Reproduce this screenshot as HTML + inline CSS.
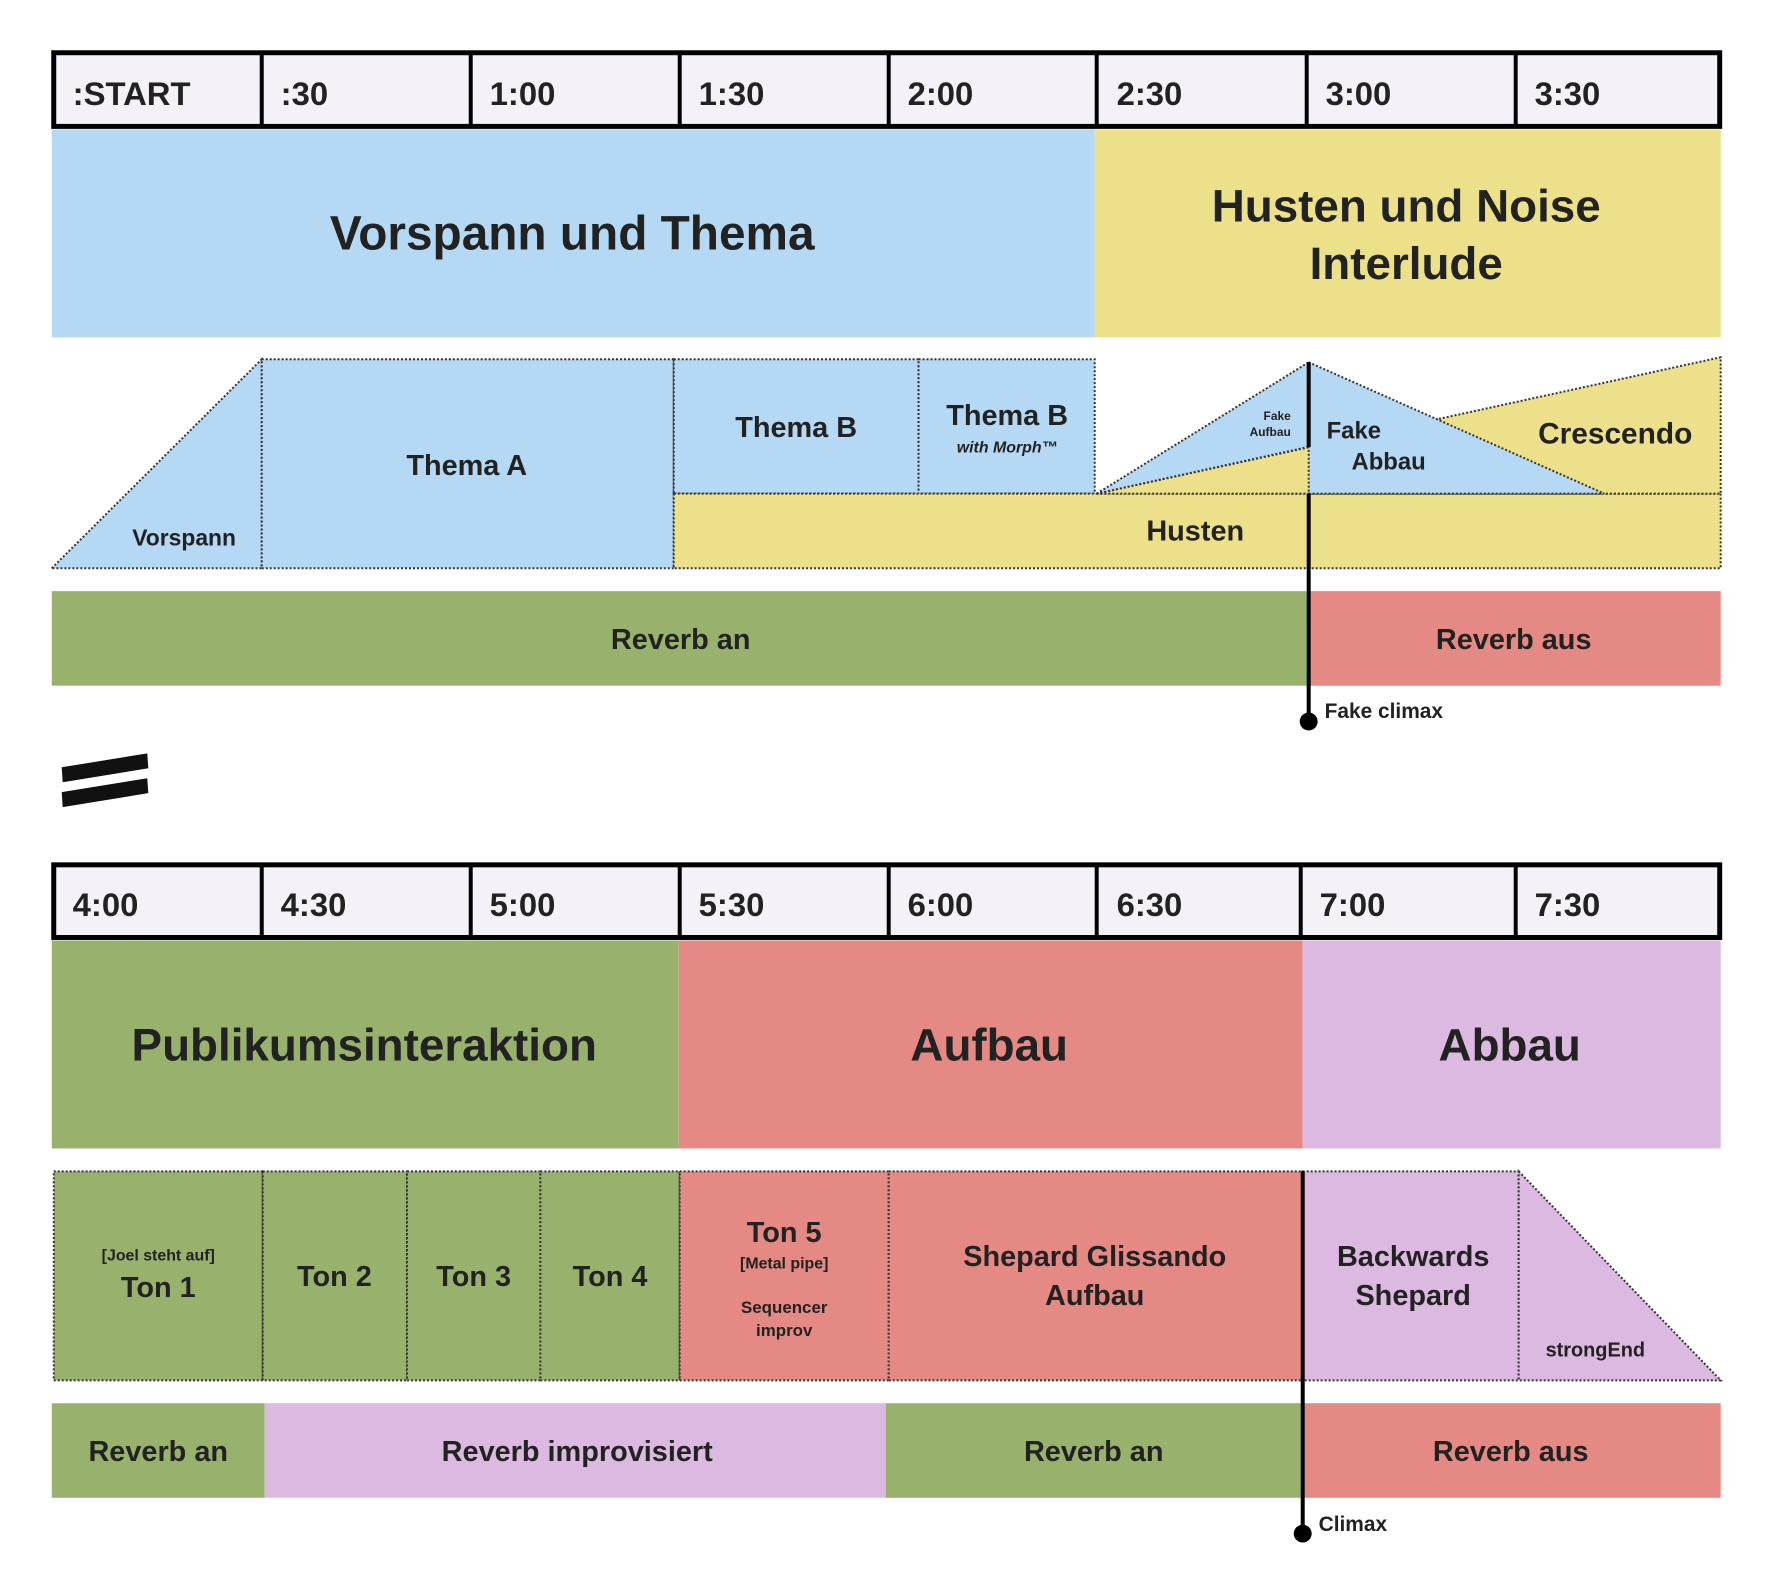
<!DOCTYPE html>
<html><head><meta charset="utf-8"><style>
html,body{margin:0;padding:0;background:#fff;}
svg{display:block;}
text{font-family:"Liberation Sans",sans-serif;font-weight:bold;fill:#222;dominant-baseline:central;}
.h{font-size:33px;}
.c{text-anchor:middle;}
</style></head><body>
<svg width="1773" height="1594" viewBox="0 0 1773 1594" xmlns="http://www.w3.org/2000/svg">
<g transform="scale(0.9952)">
<!-- TOP HEADER -->
<rect x="54" y="53" width="1674" height="74" fill="#f4f2f8" stroke="#000" stroke-width="5"/>
<g stroke="#000" stroke-width="4">
<line x1="263" y1="53" x2="263" y2="127"/><line x1="473" y1="53" x2="473" y2="127"/>
<line x1="683" y1="53" x2="683" y2="127"/><line x1="893" y1="53" x2="893" y2="127"/>
<line x1="1102" y1="53" x2="1102" y2="127"/><line x1="1313" y1="53" x2="1313" y2="127"/>
<line x1="1523" y1="53" x2="1523" y2="127"/>
</g>
<text class="h" x="73" y="94">:START</text><text class="h" x="282" y="94">:30</text>
<text class="h" x="492" y="94">1:00</text><text class="h" x="702" y="94">1:30</text>
<text class="h" x="912" y="94">2:00</text><text class="h" x="1122" y="94">2:30</text>
<text class="h" x="1332" y="94">3:00</text><text class="h" x="1542" y="94">3:30</text>
<!-- bands -->
<rect x="52" y="130" width="1048" height="209" fill="#b5d8f4"/>
<rect x="1100" y="130" width="629" height="209" fill="#ede08a"/>
<text class="c" x="575" y="235" style="font-size:48px">Vorspann und Thema</text>
<text class="c" x="1413" y="207" style="font-size:46px">Husten und Noise</text>
<text class="c" x="1413" y="265" style="font-size:46px">Interlude</text>
<!-- middle row -->
<g stroke="#333" stroke-width="2" stroke-dasharray="2,2">
<polygon points="52,571 263,361 263,571" fill="#b5d8f4"/>
<rect x="263" y="361" width="414" height="210" fill="#b5d8f4"/>
<rect x="677" y="361" width="246" height="135" fill="#b5d8f4"/>
<rect x="923" y="361" width="177" height="135" fill="#b5d8f4"/>
<rect x="677" y="496" width="1052" height="75" fill="#ede08a"/>
<polygon points="1102,496 1729,359 1729,496" fill="#ede08a"/>
<polygon points="1102,496 1315,364 1315,449" fill="#b5d8f4"/>
<polygon points="1315,364 1315,496 1612,496" fill="#b5d8f4"/>
</g>
<text class="c" x="185" y="540" style="font-size:23px">Vorspann</text>
<text class="c" x="469" y="468" style="font-size:29px">Thema A</text>
<text class="c" x="800" y="430" style="font-size:29px">Thema B</text>
<text class="c" x="1012" y="418" style="font-size:29px">Thema B</text>
<text class="c" x="1012" y="450" style="font-size:16px;font-style:italic">with Morph™</text>
<text x="1297" y="418" style="font-size:12px;text-anchor:end">Fake</text>
<text x="1297" y="434" style="font-size:12px;text-anchor:end">Aufbau</text>
<text x="1333" y="433" style="font-size:24px">Fake</text>
<text x="1358" y="464" style="font-size:24px">Abbau</text>
<text class="c" x="1623" y="436" style="font-size:30px">Crescendo</text>
<text class="c" x="1201" y="534" style="font-size:29px">Husten</text>
<!-- reverb top -->
<rect x="52" y="594" width="1263" height="95" fill="#98b26e"/>
<rect x="1315" y="594" width="414" height="95" fill="#e48983"/>
<text class="c" x="684" y="643" style="font-size:29px">Reverb an</text>
<text class="c" x="1521" y="643" style="font-size:29px">Reverb aus</text>
<line x1="1315" y1="364" x2="1315" y2="449" stroke="#000" stroke-width="4"/>
<line x1="1315" y1="496" x2="1315" y2="725" stroke="#000" stroke-width="4"/>
<circle cx="1315" cy="725" r="9" fill="#000"/>
<text x="1331" y="715" style="font-size:21px">Fake climax</text>
<!-- equals -->
<polygon points="62,771 148,757 149,772 63,786" fill="#111"/>
<polygon points="62,796 148,782 149,797 63,811" fill="#111"/>
<!-- BOTTOM HEADER -->
<rect x="54" y="869" width="1674" height="73" fill="#f4f2f8" stroke="#000" stroke-width="5"/>
<g stroke="#000" stroke-width="4">
<line x1="263" y1="869" x2="263" y2="942"/><line x1="473" y1="869" x2="473" y2="942"/>
<line x1="683" y1="869" x2="683" y2="942"/><line x1="893" y1="869" x2="893" y2="942"/>
<line x1="1102" y1="869" x2="1102" y2="942"/><line x1="1307" y1="869" x2="1307" y2="942"/>
<line x1="1523" y1="869" x2="1523" y2="942"/>
</g>
<text class="h" x="73" y="909">4:00</text><text class="h" x="282" y="909">4:30</text>
<text class="h" x="492" y="909">5:00</text><text class="h" x="702" y="909">5:30</text>
<text class="h" x="912" y="909">6:00</text><text class="h" x="1122" y="909">6:30</text>
<text class="h" x="1326" y="909">7:00</text><text class="h" x="1542" y="909">7:30</text>
<rect x="52" y="945" width="630" height="209" fill="#98b26e"/>
<rect x="682" y="945" width="627" height="209" fill="#e48983"/>
<rect x="1309" y="945" width="420" height="209" fill="#dcb9e0"/>
<text class="c" x="366" y="1050" style="font-size:46px">Publikumsinteraktion</text>
<text class="c" x="994" y="1050" style="font-size:46px">Aufbau</text>
<text class="c" x="1517" y="1050" style="font-size:46px">Abbau</text>
<!-- bottom row -->
<g stroke="#333" stroke-width="2" stroke-dasharray="2,2">
<rect x="54" y="1177" width="210" height="210" fill="#98b26e"/>
<rect x="264" y="1177" width="145" height="210" fill="#98b26e"/>
<rect x="409" y="1177" width="134" height="210" fill="#98b26e"/>
<rect x="543" y="1177" width="140" height="210" fill="#98b26e"/>
<rect x="683" y="1177" width="210" height="210" fill="#e48983"/>
<rect x="893" y="1177" width="416" height="210" fill="#e48983"/>
<rect x="1309" y="1177" width="217" height="210" fill="#dcb9e0"/>
<polygon points="1526,1177 1729,1387 1526,1387" fill="#dcb9e0"/>
</g>
<text class="c" x="159" y="1262" style="font-size:16px">[Joel steht auf]</text>
<text class="c" x="159" y="1294" style="font-size:29px">Ton 1</text>
<text class="c" x="336" y="1283" style="font-size:29px">Ton 2</text>
<text class="c" x="476" y="1283" style="font-size:29px">Ton 3</text>
<text class="c" x="613" y="1283" style="font-size:29px">Ton 4</text>
<text class="c" x="788" y="1239" style="font-size:29px">Ton 5</text>
<text class="c" x="788" y="1270" style="font-size:16px">[Metal pipe]</text>
<text class="c" x="788" y="1314" style="font-size:17px">Sequencer</text>
<text class="c" x="788" y="1337" style="font-size:17px">improv</text>
<text class="c" x="1100" y="1263" style="font-size:29px">Shepard Glissando</text>
<text class="c" x="1100" y="1302" style="font-size:29px">Aufbau</text>
<text class="c" x="1420" y="1263" style="font-size:29px">Backwards</text>
<text class="c" x="1420" y="1302" style="font-size:29px">Shepard</text>
<text class="c" x="1603" y="1357" style="font-size:20px">strongEnd</text>
<!-- reverb bottom -->
<rect x="52" y="1410" width="214" height="95" fill="#98b26e"/>
<rect x="266" y="1410" width="624" height="95" fill="#dcb9e0"/>
<rect x="890" y="1410" width="419" height="95" fill="#98b26e"/>
<rect x="1309" y="1410" width="420" height="95" fill="#e48983"/>
<text class="c" x="159" y="1459" style="font-size:29px">Reverb an</text>
<text class="c" x="580" y="1459" style="font-size:29px">Reverb improvisiert</text>
<text class="c" x="1099" y="1459" style="font-size:29px">Reverb an</text>
<text class="c" x="1518" y="1459" style="font-size:29px">Reverb aus</text>
<line x1="1309" y1="1177" x2="1309" y2="1541" stroke="#000" stroke-width="4"/>
<circle cx="1309" cy="1541" r="9" fill="#000"/>
<text x="1325" y="1532" style="font-size:21px">Climax</text>
</g>
</svg>
</body></html>
